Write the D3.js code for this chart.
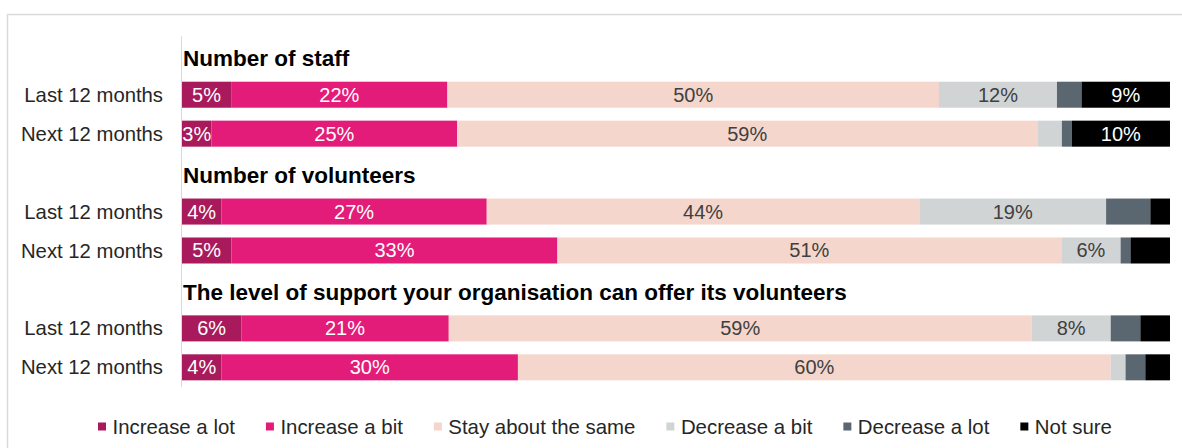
<!DOCTYPE html>
<html>
<head>
<meta charset="utf-8">
<script src="https://cdn.jsdelivr.net/npm/d3@7"></script>
<style>
  html, body { margin: 0; padding: 0; background: #fff; }
  svg { display: block; font-family: "Liberation Sans", Arial, sans-serif; }
</style>
</head>
<body>
<svg id="chart" width="1182" height="448"></svg>
<script>
// Response categories, in stacking order
const series = ["Increase a lot", "Increase a bit", "Stay about the same", "Decrease a bit", "Decrease a lot", "Not sure"];
const seriesColors = ["#a81a5c", "#e31c79", "#f4d6cc", "#d1d4d5", "#5b6770", "#000000"];
const labelColors = ["#ffffff", "#ffffff", "#404040", "#404040", "#ffffff", "#ffffff"];
// smallest value that gets a data label, per category
const minLabel = [3, 3, 3, 3, 5, 5];

const groups = ["Number of staff", "Number of volunteers", "The level of support your organisation can offer its volunteers"];
const periods = ["Last 12 months", "Next 12 months"];

// Percentage of respondents per category
const staffLast = [5, 22, 50, 12, 2.5, 9];
const staffNext = [3, 25, 59, 2.5, 1, 10];
const volunteersLast = [4, 27, 44, 19, 4.5, 2];
const volunteersNext = [5, 33, 51, 6, 1, 4];
const supportLast = [6, 21, 59, 8, 3, 3];
const supportNext = [4, 30, 60, 1.5, 2, 2.5];

const groupValues = [
  [staffLast, staffNext],
  [volunteersLast, volunteersNext],
  [supportLast, supportNext]
];

// One slot per title and per bar row
const slots = [];
groups.forEach((g, gi) => {
  slots.push({ id: "title" + gi, type: "title", text: g });
  periods.forEach((p, pi) => {
    const row = { id: gi + "-" + pi, type: "row", label: p };
    series.forEach((s, si) => { row[s] = groupValues[gi][pi][si]; });
    slots.push(row);
  });
});
const rows = slots.filter(d => d.type === "row");

const svg = d3.select("#chart");

// Outer frame
svg.append("rect")
  .attr("x", 7.5).attr("y", 14.5)
  .attr("width", 1300).attr("height", 600)
  .attr("fill", "none").attr("stroke", "#d9d9d9").attr("stroke-width", 1.5);

const x = d3.scaleLinear().domain([0, 1]).range([182, 1170]);
const y = d3.scaleBand()
  .domain(slots.map(d => d.id))
  .range([36.3, 386.8])
  .paddingInner(0.332)
  .paddingOuter(0.166);

// Category axis line
svg.append("line")
  .attr("x1", 181.5).attr("x2", 181.5)
  .attr("y1", y.range()[0]).attr("y2", y.range()[1])
  .attr("stroke", "#d9d9d9").attr("stroke-width", 1);

const stack = d3.stack().keys(series).offset(d3.stackOffsetExpand);
const stacked = stack(rows);

const layers = svg.append("g").selectAll("g")
  .data(stacked)
  .join("g")
  .attr("fill", (d, i) => seriesColors[i]);

layers.selectAll("rect")
  .data(d => d)
  .join("rect")
  .attr("x", d => x(d[0]))
  .attr("y", d => y(d.data.id))
  .attr("width", d => x(d[1]) - x(d[0]))
  .attr("height", y.bandwidth());

// Data labels
const labels = svg.append("g").attr("font-size", 20);
stacked.forEach((layer, si) => {
  labels.selectAll(null)
    .data(layer.filter(d => d.data[series[si]] >= minLabel[si]))
    .join("text")
    .attr("x", d => (x(d[0]) + x(d[1])) / 2)
    .attr("y", d => y(d.data.id) + y.bandwidth() / 2)
    .attr("dy", "0.35em")
    .attr("text-anchor", "middle")
    .attr("fill", labelColors[si])
    .text(d => Math.round(d.data[series[si]]) + "%");
});

// Row labels
svg.append("g").selectAll("text")
  .data(rows)
  .join("text")
  .attr("x", 163)
  .attr("y", d => y(d.id) + y.bandwidth() / 2)
  .attr("dy", "0.35em")
  .attr("text-anchor", "end")
  .attr("font-size", 20.3)
  .attr("fill", "#262626")
  .text(d => d.label);

// Group titles
svg.append("g").selectAll("text")
  .data(slots.filter(d => d.type === "title"))
  .join("text")
  .attr("x", 183)
  .attr("y", d => y(d.id) + y.bandwidth() / 2 + 10.5)
  .attr("font-size", 22.5)
  .attr("font-weight", "bold")
  .attr("fill", "#000")
  .text(d => d.text);

// Legend
const legend = svg.append("g").attr("font-size", 20.4);
let lx = 98;
series.forEach((s, i) => {
  legend.append("rect")
    .attr("x", lx).attr("y", 422.5)
    .attr("width", 8).attr("height", 8)
    .attr("fill", seriesColors[i]);
  const t = legend.append("text")
    .attr("x", lx + 14.5).attr("y", 433.5)
    .attr("fill", "#262626")
    .text(s);
  lx += 14.5 + t.node().getComputedTextLength() + 31;
});
</script>
</body>
</html>
